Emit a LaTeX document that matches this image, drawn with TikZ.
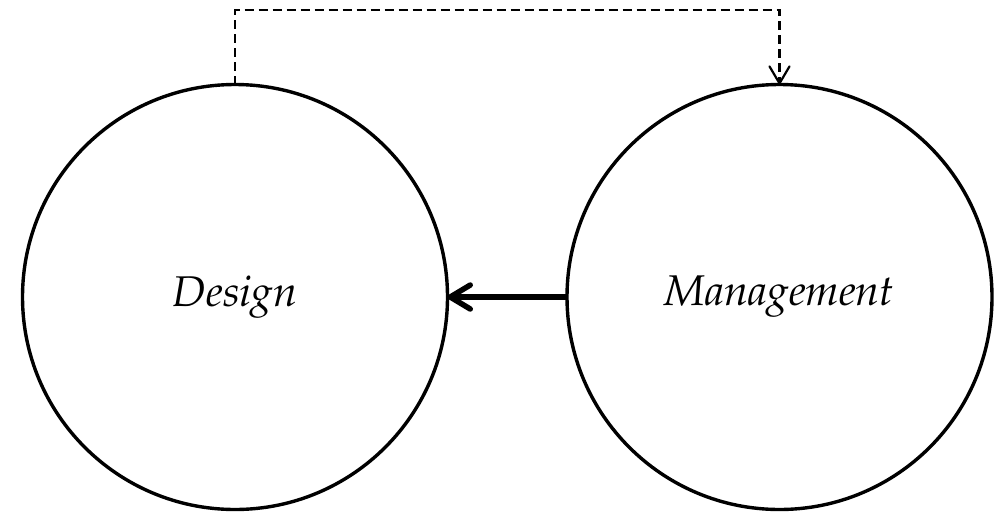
\documentclass[tikz,border=0pt]{standalone}
\usepackage[T1]{fontenc}
\usepackage{mathpazo}
\usetikzlibrary{arrows.meta}
\begin{document}
\begin{tikzpicture}[x=1pt,y=-1pt,
  bubble/.style={circle,draw,line width=3.4pt,minimum size=425pt,inner sep=0pt,outer sep=0pt,
    font=\fontsize{43}{50}\selectfont\itshape},
  dashlink/.style={line width=2.2pt,dash pattern=on 9pt off 5pt,
    -{Straight Barb[length=17pt,width=20pt,line width=2.2pt,round]}},
  thicklink/.style={line width=5.5pt,
    -{Straight Barb[length=20pt,width=24pt,line width=5.5pt,round]}}]
\useasboundingbox (0,0) rectangle (1007,515);
\node[bubble] (design) at (235,297) {Design};
\node[bubble] (mgmt) at (779.5,297) {Management};
\coordinate (c1) at (235,10);
\coordinate (c2) at (779.5,10);
\draw[dashlink] (design.north) -- (c1) -- (c2) -- (mgmt.north);
\draw[thicklink] (mgmt.west) -- (design.east);
\end{tikzpicture}
\end{document}
